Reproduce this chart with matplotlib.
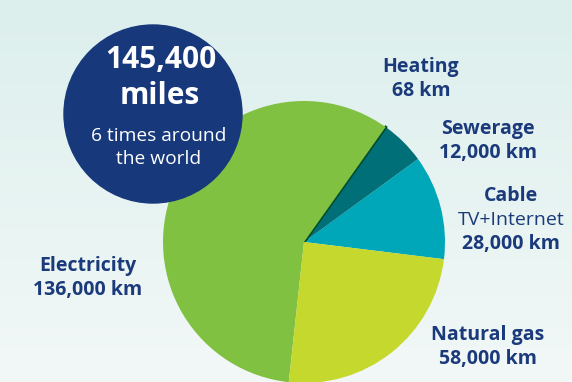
import numpy as np
import matplotlib
matplotlib.use("Agg")
import matplotlib.pyplot as plt
from matplotlib.patches import Circle
from matplotlib.colors import LinearSegmentedColormap

# data
names = ["Cable", "Sewerage", "Heating", "Electricity", "Natural gas"]
km = [28000, 12000, 68, 136000, 58000]
colors = ["#00a7b9", "#006f78", "#004f2e", "#80c142", "#c5d82e"]

navy = "#1b3a7b"
W, H = 572, 382

fig = plt.figure(figsize=(W / 100, H / 100), dpi=100)
ax = fig.add_axes([0, 0, 1, 1])

# background gradient (mint at top -> near white at bottom)
cmap = LinearSegmentedColormap.from_list("bg", ["#f2f8f7", "#dcefed"])
grad = np.linspace(0, 1, 256).reshape(-1, 1)
ax.imshow(grad, extent=(0, W, 0, H), origin="lower", aspect="auto", cmap=cmap, zorder=0)

# pie
wedges, _ = ax.pie(km, colors=colors, startangle=-7, counterclock=True,
                   center=(304, H - 242), radius=141, frame=True,
                   wedgeprops=dict(linewidth=0))
for w in wedges:
    w.set_zorder(2)
wedges[2].set_edgecolor(colors[2])
wedges[2].set_linewidth(2)
ax.set_xlim(0, W)
ax.set_ylim(0, H)
ax.set_aspect("equal")
ax.axis("off")

# the big navy circle
ax.add_patch(Circle((153, H - 114), 89, color="#17387b", zorder=3))
ax.text(161, H - 60, "145,400", color="white", fontsize=21.5, fontweight="bold",
        family="Open Sans", ha="center", va="center", zorder=4)
ax.text(160, H - 96, "miles", color="white", fontsize=21.5, fontweight="bold",
        family="Open Sans", ha="center", va="center", zorder=4)
ax.text(159, H - 136, "6 times around", color="white", fontsize=13.8,
        family="Open Sans", ha="center", va="center", zorder=4)
ax.text(159, H - 159, "the world", color="white", fontsize=13.8,
        family="Open Sans", ha="center", va="center", zorder=4)

# labels
def label(x, y, lines):
    for i, (txt, bold) in enumerate(lines):
        ax.text(x, H - y - i * 24, txt, color=navy, fontsize=14,
                fontweight="bold" if bold else "normal", family="Open Sans",
                ha="center", va="center", zorder=4)

label(421, 67, [("Heating", True), ("68 km", True)])
label(488, 129, [("Sewerage", True), ("12,000 km", True)])
label(511, 196, [("Cable", True), ("TV+Internet", False), ("28,000 km", True)])
label(488, 335, [("Natural gas", True), ("58,000 km", True)])
label(88, 266, [("Electricity", True), ("136,000 km", True)])

fig.savefig("out.png", dpi=100)
